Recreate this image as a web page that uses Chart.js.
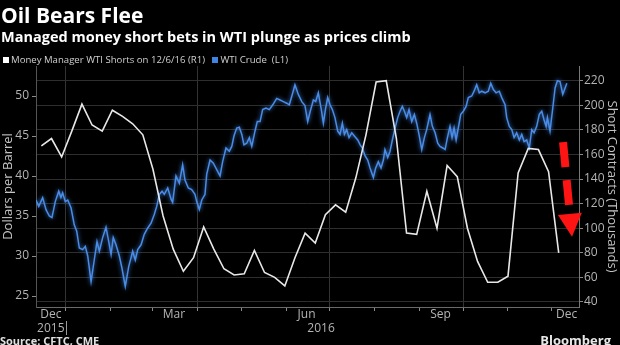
<!DOCTYPE html>
<html>
<head>
<meta charset="utf-8">
<script src="https://cdn.jsdelivr.net/npm/chart.js@4.4.0/dist/chart.umd.min.js"></script>
<style>
  body { margin: 0; background: #000; }
  #wrap { position: relative; width: 620px; height: 345px; overflow: hidden; background: #000; font-family: "Open Sans", sans-serif; }
  #chart { position: absolute; left: 0; top: 0; }
  .txt { position: absolute; white-space: nowrap; z-index: 2; }
  #title { left: 1px; top: 1px; color: #fff; font-weight: bold; font-size: 21px; }
  #subtitle { left: 1px; top: 27px; color: #fff; font-weight: bold; font-size: 14.5px; }
  #legend { left: 3px; top: 53px; color: #d0d0d0; font-size: 9.6px; }
  #legend span.sw { display: inline-block; width: 6px; height: 6px; margin-right: 2px; vertical-align: 0px; }
  #source { left: 0px; top: 333px; color: #e0e0e0; font-weight: bold; font-size: 11px; }
  #brand { right: 9px; top: 331px; color: #e8e8e8; font-weight: bold; font-size: 13px; }
</style>
</head>
<body>
<div id="wrap">
  <canvas id="chart" width="620" height="345"></canvas>
  <div class="txt" id="title">Oil Bears Flee</div>
  <div class="txt" id="subtitle">Managed money short bets in WTI plunge as prices climb</div>
  <div class="txt" id="legend"><span class="sw" style="background:#fff"></span>Money Manager WTI Shorts on 12/6/16 (R1)&nbsp;&nbsp;&nbsp;<span class="sw" style="background:#3f84e0"></span>WTI Crude&nbsp;&nbsp;(L1)</div>
  <div class="txt" id="source">Source: CFTC, CME</div>
  <div class="txt" id="brand">Bloomberg</div>
</div>
<script>
// x values are days counted from Jan 1 2016

// WTI crude, dollars per barrel (left axis)
const crudeDays = [
  -20.7, -18.8, -16.1, -13.8, -11.5, -9.7, -7.4, -5.0, -3.5, -2.3, -0.5, 1.2, 3.5, 5.7, 7.4, 9.2,
  11.5, 13.3, 15.0, 17.3, 19.5, 21.4, 23.0, 25.3, 27.6, 29.5, 31.1, 32.6, 34.5, 36.8, 38.6, 40.9,
  43.3, 44.9, 46.0, 47.8, 49.5, 51.8, 54.0, 56.4, 58.7, 60.9, 62.6, 64.4, 66.3, 67.8, 70.2, 72.5,
  73.6, 75.9, 78.2, 80.5, 82.1, 84.4, 86.7, 89.0, 90.2, 92.0, 93.7, 95.9, 97.1, 99.4, 101.7, 104.0,
  106.3, 108.1, 110.4, 112.7, 114.4, 115.9, 117.8, 119.6, 121.3, 122.8, 124.7, 126.5, 128.2, 130.4,
  132.0, 133.9, 135.7, 138.0, 140.3, 142.7, 145.4, 147.7, 150.0, 152.3, 154.1, 156.5, 158.0, 160.3,
  162.7, 164.9, 166.8, 168.4, 170.7, 172.3, 174.1, 176.0, 177.6, 179.2, 180.6, 182.2, 183.8, 185.6,
  187.5, 189.1, 190.7, 192.1, 193.7, 195.3, 197.2, 199.0, 201.3, 203.0, 204.5, 206.4, 208.2, 209.8,
  212.1, 213.7, 215.5, 217.4, 219.0, 220.1, 222.0, 223.6, 225.2, 227.1, 228.9, 230.5, 232.1, 233.5,
  235.1, 236.7, 238.6, 240.4, 242.0, 243.6, 245.5, 247.3, 248.9, 251.2, 252.8, 254.7, 256.5, 258.1,
  260.0, 261.6, 263.2, 265.0, 266.4, 267.8, 269.2, 270.7, 272.4, 274.2, 276.1, 277.6, 280.0, 281.6,
  283.4, 285.2, 286.9, 289.2, 291.4, 293.1, 294.9, 296.8, 299.0, 300.7, 303.0, 304.1, 305.9, 307.6,
  309.2, 311.0, 312.8, 314.5, 316.1, 317.9, 319.7, 321.4, 323.0, 324.8, 326.6, 328.3, 329.9, 331.3,
  332.2, 334.0, 335.9, 337.5, 339.1, 340.9, 342.8, 344.4, 345.6
];
const crudePrices = [
  37.0, 36.2, 37.3, 35.8, 35.0, 34.8, 36.8, 38.1, 37.3, 37.9, 36.8, 37.0, 36.0, 33.9, 33.1, 31.0,
  30.8, 31.2, 30.0, 26.8, 29.5, 31.8, 30.6, 32.3, 33.6, 31.8, 30.2, 32.3, 31.4, 30.0, 28.5, 26.2,
  28.7, 29.8, 30.6, 29.5, 30.8, 31.4, 32.7, 33.5, 34.1, 35.2, 36.2, 37.7, 38.1, 37.7, 38.5, 37.1,
  36.7, 40.0, 39.1, 41.4, 39.5, 38.5, 38.3, 37.7, 36.8, 35.8, 37.0, 37.7, 40.2, 42.0, 41.6, 40.8,
  40.0, 41.8, 43.5, 43.1, 43.7, 45.0, 46.0, 46.1, 45.2, 43.9, 44.1, 44.8, 43.7, 45.6,
  46.8, 46.8, 48.3, 48.5, 48.3, 48.9, 49.7, 49.5, 49.3, 49.1, 48.9, 50.4, 51.4, 50.2,
  49.3, 48.8, 46.8, 48.0, 49.5, 49.3, 50.4, 48.5, 46.6, 48.5, 49.8, 48.9, 48.3, 47.3,
  45.6, 45.2, 46.6, 45.2, 45.8, 44.8, 45.4, 45.0, 44.5, 43.9, 43.5, 42.5, 42.0, 41.0,
  39.8, 41.0, 41.8, 41.0, 42.0, 43.3, 42.3, 43.1, 44.5, 46.0, 47.3, 48.1, 48.7, 48.1,
  47.3, 48.3, 46.8, 47.7, 46.6, 45.2, 43.3, 44.8, 45.8, 47.7, 46.2, 45.4, 44.1, 43.7,
  43.5, 43.3, 44.8, 46.2, 44.8, 46.0, 44.5, 46.0, 47.7, 48.1, 48.7, 49.8, 50.0, 50.6,
  51.4, 50.4, 50.6, 50.4, 50.6, 51.6, 50.8, 50.4, 50.6, 49.8, 48.9, 47.3, 46.2, 45.8,
  44.8, 45.4, 44.5, 45.2, 44.3, 44.5, 43.5, 45.8, 45.4, 46.2, 47.7, 48.1, 47.0, 46.2,
  47.3, 45.6, 48.5, 51.0, 51.9, 51.8, 50.2, 51.0, 51.6
];

// weekly money manager shorts, thousands of contracts (right axis)
const shortDays = [
  -17, -10, -3, 4, 11, 18, 25, 32, 39, 46, 53, 60, 67, 74, 81, 88, 95, 102, 109, 116,
  123, 130, 137, 144, 151, 158, 165, 172, 179, 186, 193, 200, 207, 214, 221, 228, 235, 242,
  249, 256, 263, 270, 277, 284, 291, 298, 305, 312, 319, 326, 333, 340
];
const shortValues = [
  167, 173, 158, 179, 201, 184, 179, 196, 191, 185, 176, 148, 110, 83, 65, 76, 101, 83, 67, 62,
  63, 82, 64, 60, 53, 76, 96, 88, 111, 119, 113, 141, 176, 219, 220, 173, 96, 95,
  130, 100, 151, 142, 100, 73, 56, 56, 61, 145, 165, 164, 146, 80
];

const leftTicks = [25, 30, 35, 40, 45, 50];
const rightTicks = [40, 60, 80, 100, 120, 140, 160, 180, 200, 220];
const monthStarts = [0, 31, 60, 91, 121, 152, 182, 213, 244, 274, 305, 335];
const quarterStarts = [0, 91, 182, 274];
const periodLabels = ['Dec', 'Mar', 'Jun', 'Sep', 'Dec'];
const periodLabelDays = [-10.5, 74.5, 166, 258.5, 345.5];
const yearLabels = ['2015', '2016'];
const yearLabelDays = [-10.5, 176];

// dashed arrow, given in day / shorts units
const arrowFrom = { day: 343, shorts: 170 };
const arrowTo = { day: 349.2, shorts: 93 };

const tickFont = { family: 'Open Sans', size: 12 };
const tickColor = '#b4b4b4';

const blueGlow = {
  id: 'blueGlow',
  beforeDatasetDraw(chart, args) {
    if (args.index !== 1) return;
    const ctx = chart.ctx;
    ctx.save();
    ctx.shadowColor = 'rgba(70,140,240,0.9)';
    ctx.shadowBlur = 4;
  },
  afterDatasetDraw(chart, args) {
    if (args.index !== 1) return;
    chart.ctx.restore();
  }
};

const extras = {
  id: 'extras',
  afterDraw(chart) {
    const ctx = chart.ctx;
    const xs = chart.scales.x;
    const yr = chart.scales.yR;
    ctx.save();
    ctx.fillStyle = tickColor;
    ctx.font = '12px "Open Sans"';
    ctx.textAlign = 'center';
    ctx.textBaseline = 'middle';
    periodLabels.forEach((t, i) => ctx.fillText(t, xs.getPixelForValue(periodLabelDays[i]), 315));
    yearLabels.forEach((t, i) => ctx.fillText(t, xs.getPixelForValue(yearLabelDays[i]), 329));

    // year separator below the axis
    const sx = Math.round(xs.getPixelForValue(0)) + 0.5;
    ctx.strokeStyle = '#9a9a9a';
    ctx.lineWidth = 1;
    ctx.beginPath();
    ctx.moveTo(sx, 321);
    ctx.lineTo(sx, 335);
    ctx.stroke();

    // red arrow
    const x0 = xs.getPixelForValue(arrowFrom.day), y0 = yr.getPixelForValue(arrowFrom.shorts);
    const x1 = xs.getPixelForValue(arrowTo.day), y1 = yr.getPixelForValue(arrowTo.shorts);
    const len = Math.hypot(x1 - x0, y1 - y0);
    const ux = (x1 - x0) / len, uy = (y1 - y0) / len;
    const headLen = 23, headHalf = 12;
    const bx = x1 - ux * headLen, by = y1 - uy * headLen;
    ctx.strokeStyle = '#ff1414';
    ctx.fillStyle = '#ff1414';
    ctx.lineWidth = 8;
    ctx.setLineDash([25, 13]);
    ctx.beginPath();
    ctx.moveTo(x0, y0);
    ctx.lineTo(bx, by);
    ctx.stroke();
    ctx.setLineDash([]);
    ctx.beginPath();
    ctx.moveTo(bx - uy * headHalf, by + ux * headHalf);
    ctx.lineTo(bx + uy * headHalf, by - ux * headHalf);
    ctx.lineTo(x1, y1);
    ctx.closePath();
    ctx.fill();
    ctx.restore();
  }
};

new Chart(document.getElementById('chart').getContext('2d'), {
  type: 'line',
  data: {
    datasets: [
      {
        label: 'Money Manager WTI Shorts on 12/6/16 (R1)',
        data: shortDays.map((d, i) => ({ x: d, y: shortValues[i] })),
        yAxisID: 'yR',
        borderColor: '#e8e8e8',
        borderWidth: 1.6,
        pointRadius: 0,
        tension: 0
      },
      {
        label: 'WTI Crude (L1)',
        data: crudeDays.map((d, i) => ({ x: d, y: crudePrices[i] })),
        yAxisID: 'yL',
        borderColor: '#4a8ce6',
        borderWidth: 1.5,
        pointRadius: 0,
        tension: 0
      }
    ]
  },
  options: {
    responsive: false,
    animation: false,
    devicePixelRatio: 1,
    layout: { padding: { top: 66 } },
    plugins: { legend: { display: false }, tooltip: { enabled: false } },
    scales: {
      x: {
        type: 'linear',
        min: -20.7,
        max: 354,
        afterBuildTicks: s => { s.ticks = monthStarts.map(v => ({ value: v })); },
        afterFit: s => { s.height = 38; },
        ticks: { callback: () => '', maxRotation: 0 },
        grid: {
          color: c => quarterStarts.includes(c.tick && c.tick.value) ? '#333' : 'rgba(0,0,0,0)',
          tickColor: '#8a8a8a',
          tickLength: 4
        },
        border: { color: '#6a6a6a' }
      },
      yL: {
        position: 'left',
        min: 23.625,
        max: 53.75,
        afterBuildTicks: s => { s.ticks = leftTicks.map(v => ({ value: v })); },
        afterFit: s => { s.width = 36; },
        ticks: { color: tickColor, font: tickFont, padding: 3 },
        grid: { drawOnChartArea: false, tickColor: '#8a8a8a', tickLength: 4 },
        border: { color: '#555' },
        title: { display: true, text: 'Dollars per Barrel', color: '#c4c4c4', font: { family: 'Open Sans', size: 13 }, padding: 0 }
      },
      yR: {
        position: 'right',
        min: 35.9,
        max: 232,
        afterBuildTicks: s => { s.ticks = rightTicks.map(v => ({ value: v })); },
        afterFit: s => { s.width = 41; },
        ticks: { color: tickColor, font: tickFont, padding: 1 },
        grid: { color: '#2e2e2e', tickColor: '#8a8a8a', tickLength: 4 },
        border: { color: '#777' },
        title: { display: true, text: 'Short Contracts (Thousands)', color: '#c4c4c4', font: { family: 'Open Sans', size: 13 }, padding: 0 }
      }
    }
  },
  plugins: [blueGlow, extras]
});
</script>
</body>
</html>
